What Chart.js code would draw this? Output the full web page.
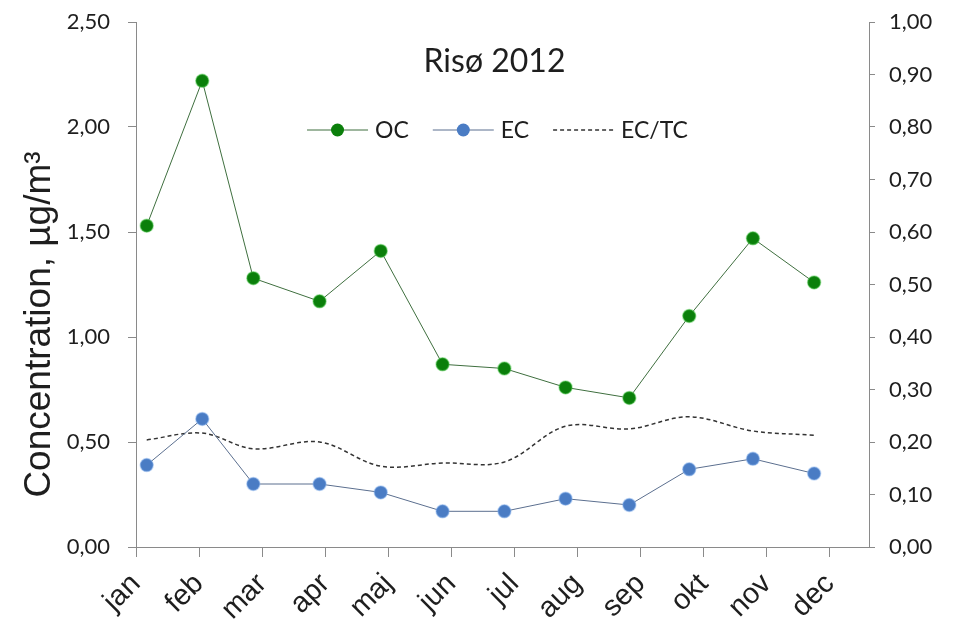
<!DOCTYPE html>
<html>
<head>
<meta charset="utf-8">
<script src="https://cdn.jsdelivr.net/npm/chart.js@4.4.1/dist/chart.umd.min.js"></script>
<style>
    html, body { margin: 0; padding: 0; background: #fff; }
    #wrap { width: 954px; height: 630px; }
</style>
</head>
<body>
<div id="wrap"><canvas id="plotRiso"></canvas></div>
<script>
// Months on the x axis
const months = ['jan', 'feb', 'mar', 'apr', 'maj', 'jun', 'jul', 'aug', 'sep', 'okt', 'nov', 'dec'];
// Where each monthly sample sits along the axis (month index)
const samplePos = [0.17, 1.05, 1.86, 2.91, 3.88, 4.86, 5.84, 6.81, 7.82, 8.77, 9.78, 10.75];
// Concentrations in µg/m3 (left axis)
const ocData = [1.53, 2.22, 1.28, 1.17, 1.41, 0.87, 0.85, 0.76, 0.71, 1.10, 1.47, 1.26];
const ecData = [0.39, 0.61, 0.30, 0.30, 0.26, 0.17, 0.17, 0.23, 0.20, 0.37, 0.42, 0.35];
// EC/TC ratio (right axis)
const ectcData = [0.204, 0.217, 0.187, 0.200, 0.154, 0.160, 0.162, 0.230, 0.225, 0.248, 0.221, 0.213];

const chartTitle = 'Risø 2012';
const yTitle = 'Concentration, µg/m³';
const numFont = 'Lato';
const axisGrey = '#8a8a8a';
const textColor = '#1e1e1e';

function toPoints(values) {
    return values.map((v, i) => ({ x: samplePos[i], y: v }));
}

// comma as decimal separator, like the original
function commaFmt(v) {
    return v.toFixed(2).replace('.', ',');
}

// the y axes should not push the plot area down for their top label
function fixYAxis(width) {
    return s => {
        s.width = width;
        s.paddingTop = 0;
    };
}

// Title, legend and the y title are drawn by hand, as in the Excel chart
const overlayText = {
    id: 'overlayText',
    afterDraw(chart) {
        const ctx = chart.ctx;
        const area = chart.chartArea;
        const cx = (area.left + area.right) / 2 - 5;
        ctx.save();
        ctx.fillStyle = textColor;
        ctx.textBaseline = 'middle';
        ctx.textAlign = 'center';
        ctx.font = '32px ' + numFont;
        ctx.fillText(chartTitle, cx - 3, area.top + 40);

        // legend: line sample + marker + label
        ctx.font = '23px ' + numFont;
        ctx.textAlign = 'left';
        const sampleLen = 61, gapText = 7, gapItem = 24;
        const items = chart.data.datasets;
        let total = 0;
        items.forEach(ds => { total += sampleLen + gapText + ctx.measureText(ds.label).width; });
        total += gapItem * (items.length - 1);
        let x = cx - total / 2;
        const y = area.top + 108;
        items.forEach(ds => {
            ctx.strokeStyle = ds.borderColor;
            ctx.lineWidth = ds.borderWidth;
            ctx.setLineDash(ds.borderDash || []);
            ctx.beginPath();
            ctx.moveTo(x, y);
            ctx.lineTo(x + sampleLen, y);
            ctx.stroke();
            ctx.setLineDash([]);
            if (ds.pointRadius > 0) {
                ctx.fillStyle = ds.pointBackgroundColor;
                ctx.beginPath();
                ctx.arc(x + sampleLen / 2, y, ds.pointRadius, 0, 2 * Math.PI);
                ctx.fill();
            }
            ctx.fillStyle = textColor;
            ctx.fillText(ds.label, x + sampleLen + gapText, y + 1);
            x += sampleLen + gapText + ctx.measureText(ds.label).width + gapItem;
        });

        // y axis title, a little below the middle of the axis like the original
        ctx.translate(50, (area.top + area.bottom) / 2 + 40);
        ctx.rotate(-Math.PI / 2);
        ctx.textAlign = 'center';
        ctx.textBaseline = 'alphabetic';
        ctx.font = '37px "Liberation Sans"';
        ctx.fillText(yTitle, 0, 0);
        ctx.restore();
    }
};

new Chart(document.getElementById('plotRiso'), {
    type: 'line',
    data: {
        datasets: [{
            label: 'OC',
            data: toPoints(ocData),
            yAxisID: 'y',
            borderColor: '#3f6f3f',
            borderWidth: 1,
            pointRadius: 6.5,
            pointBackgroundColor: '#0b7f0b',
            pointBorderColor: 'rgba(80,200,80,0.45)',
            pointBorderWidth: 1.5,
            tension: 0
        }, {
            label: 'EC',
            data: toPoints(ecData),
            yAxisID: 'y',
            borderColor: '#5b6f8f',
            borderWidth: 1,
            pointRadius: 6.5,
            pointBackgroundColor: '#4a7cc4',
            pointBorderColor: 'rgba(130,175,235,0.45)',
            pointBorderWidth: 1.5,
            tension: 0
        }, {
            label: 'EC/TC',
            data: toPoints(ectcData),
            yAxisID: 'y1',
            borderColor: '#333',
            borderWidth: 1.5,
            borderDash: [4, 3],
            pointRadius: 0,
            tension: 0.35
        }]
    },
    options: {
        responsive: true,
        maintainAspectRatio: false,
        animation: false,
        layout: { padding: { top: 22, left: 0, right: 0, bottom: 0 } },
        plugins: {
            legend: { display: false },
            title: { display: false },
            tooltip: { enabled: false }
        },
        scales: {
            x: {
                type: 'linear',
                min: 0,
                max: 11.62,
                ticks: {
                    stepSize: 1,
                    includeBounds: false,
                    autoSkip: false,
                    minRotation: 45,
                    maxRotation: 45,
                    padding: 10,
                    color: textColor,
                    font: { family: 'Liberation Sans', size: 29 },
                    callback: v => months[Math.round(v)] || ''
                },
                grid: { drawOnChartArea: false, tickLength: 10, color: axisGrey },
                border: { color: axisGrey },
                afterFit: s => { s.height = 83; }
            },
            y: {
                position: 'left',
                min: 0,
                max: 2.5,
                ticks: {
                    stepSize: 0.5,
                    padding: 18,
                    color: textColor,
                    font: { family: numFont, size: 22 },
                    callback: v => commaFmt(v)
                },
                grid: { drawOnChartArea: false, tickLength: 8, color: axisGrey },
                border: { color: axisGrey },
                afterFit: fixYAxis(136)
            },
            y1: {
                position: 'right',
                min: 0,
                max: 1,
                ticks: {
                    stepSize: 0.1,
                    padding: 14,
                    color: textColor,
                    font: { family: numFont, size: 22 },
                    callback: v => commaFmt(v)
                },
                grid: { drawOnChartArea: false, tickLength: 6, color: axisGrey },
                border: { color: axisGrey },
                afterFit: fixYAxis(85)
            }
        }
    },
    plugins: [overlayText]
});
</script>
</body>
</html>
